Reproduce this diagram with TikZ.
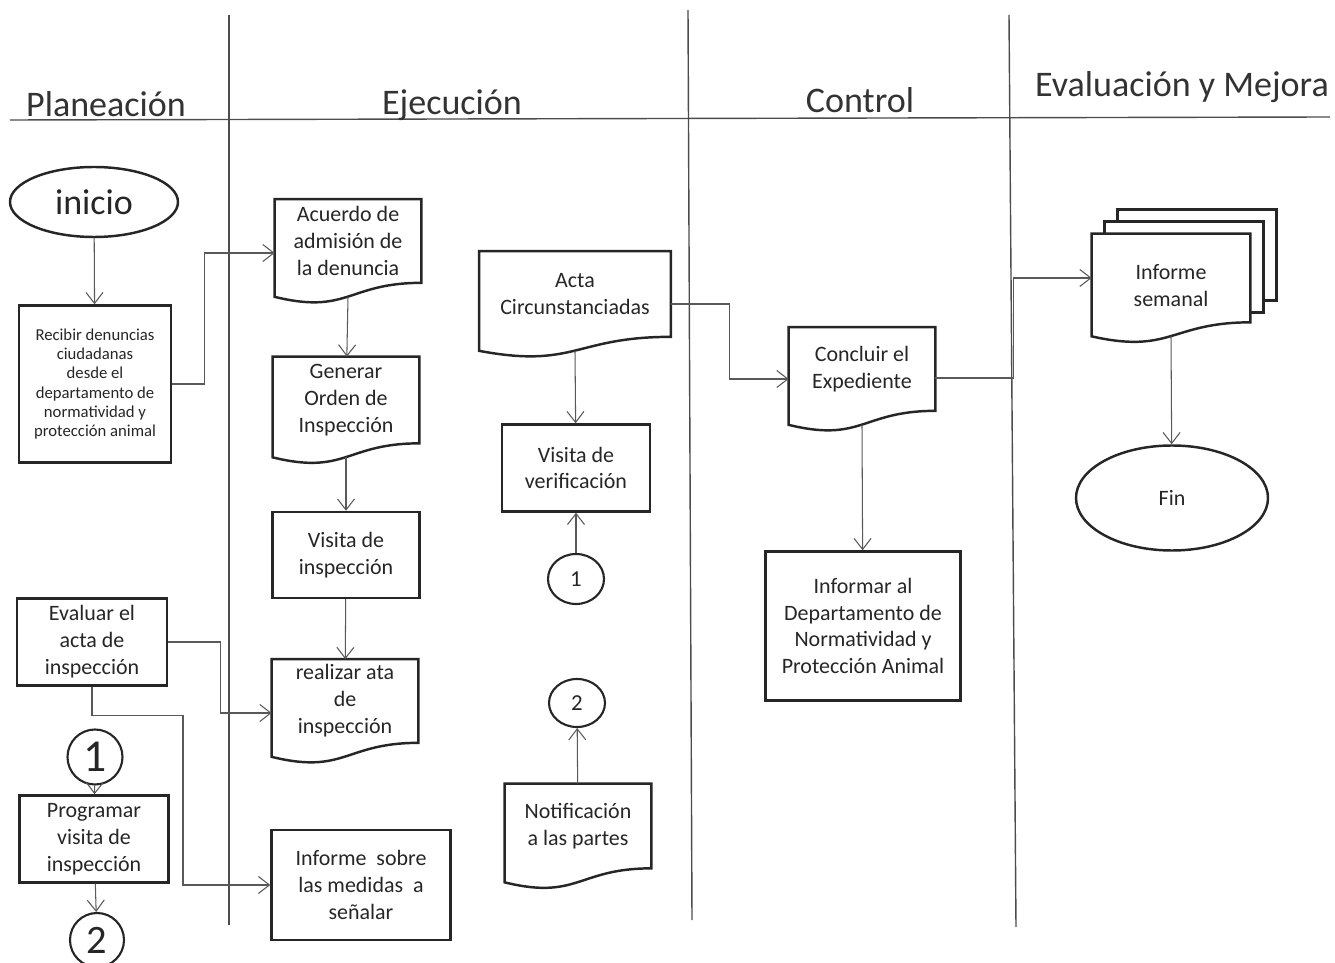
\documentclass[tikz,border=0pt]{standalone}
\usepackage{fontspec}
\setmainfont{Carlito}
\usepackage{tikz}
\usetikzlibrary{positioning}
\usetikzlibrary{arrows.meta,shapes}
\usetikzlibrary{calc}
\newlength{\px}
\setlength{\px}{0.2mm}
\begin{document}
\begin{tikzpicture}
  [x=0.2mm,y=-0.2mm,
  font=\fontsize{12.5}{15.3}\selectfont,
  boxline/.style={draw=black!85,line width=1.4pt},
  box/.style={rectangle,boxline,align=center,inner sep=2pt,text=black!85},
  doc/.style={rectangle,align=center,inner sep=2pt,text=black!85},
  term/.style={ellipse,boxline,text=black!85},
  conn/.style={ellipse,draw=black!85,line width=1.2pt,inner sep=0pt,text=black!85},
  flow/.style={->,black!65,line width=0.6pt},
  lane/.style={black!70,line width=0.8pt},
  head/.style={anchor=base,font=\fontsize{20.5}{24}\selectfont,text=black!80},
  >={Straight Barb[length=2.2mm,width=3.4mm]}]
  \useasboundingbox (0,0) rectangle (1335,963);

  \draw[lane] (10,120) -- (1330,117);
  \draw[lane] (229,15) -- (229,925);
  \draw[lane] (688,10) -- (692,920);
  \draw[lane] (1009,15) -- (1016,927);

  \node[head] (h1) at (106,117) {Planeación};
  \node[head] (h2) at (452,115) {Ejecución};
  \node[head] (h3) at (860,113) {Control};
  \node[head] (h4) at (1182,97) {Evaluación y Mejora};

  \node[term,minimum width=168*\px,minimum height=70*\px,font=\fontsize{20.5}{24}\selectfont] (inicio) at (94,202) {inicio};
  \node[box,minimum width=152*\px,minimum height=157*\px,font=\fontsize{9.5}{11}\selectfont] (recibir) at (95,384)
    {Recibir denuncias\\ciudadanas\\desde el\\departamento de\\normatividad y\\protección animal};
  \node[box,minimum width=150*\px,minimum height=87*\px] (evaluar) at (92,642) {Evaluar el\\acta de\\inspección};
  \node[conn,minimum width=55*\px,minimum height=55*\px,font=\fontsize{26}{28}\selectfont] (uno) at (95,757) {1};
  \node[box,minimum width=149*\px,minimum height=87*\px] (programar) at (94,839) {Programar\\visita de\\inspección};
  \node[conn,minimum width=54*\px,minimum height=54*\px,font=\fontsize{23}{25}\selectfont] (dos) at (97,940) {2};

  \node[doc,minimum width=146*\px,minimum height=83*\px] (acuerdo) at (348,241) {Acuerdo de\\admisión de\\la denuncia};
  \node[doc,minimum width=146*\px,minimum height=86*\px] (generar) at (346,400) {Generar\\Orden de\\Inspección};
  \node[box,minimum width=147*\px,minimum height=86*\px] (visitai) at (346,555) {Visita de\\inspección};
  \node[doc,minimum width=146*\px,minimum height=83*\px] (realizar) at (345,701) {realizar ata\\de\\inspección};
  \node[box,minimum width=179*\px,minimum height=110*\px] (medidas) at (361,885) {Informe\ \ sobre\\las medidas\ \ a\\señalar};

  \node[doc,minimum width=191*\px,minimum height=85*\px] (acta) at (575,294) {Acta\\Circunstanciadas};
  \node[box,minimum width=148*\px,minimum height=87*\px] (visitav) at (576,468) {Visita de\\verificación};
  \node[conn,minimum width=56*\px,minimum height=50*\px,font=\fontsize{13}{15}\selectfont] (unob) at (576,579) {1};
  \node[conn,minimum width=56*\px,minimum height=48*\px,font=\fontsize{13}{15}\selectfont] (dosb) at (577,703) {2};
  \node[doc,minimum width=146*\px,minimum height=84*\px] (notif) at (578,826) {Notificación\\a las partes};

  \node[doc,minimum width=146*\px,minimum height=83*\px] (concluir) at (862,369) {Concluir el\\Expediente};
  \node[box,minimum width=195*\px,minimum height=149*\px] (informar) at (863,626)
    {Informar al\\Departamento de\\Normatividad y\\Protección Animal};

  \node[doc,minimum width=158*\px,minimum height=88*\px] (informe) at (1171,278) {\rule{0pt}{6.2mm}Informe\\semanal};
  \node[term,minimum width=192*\px,minimum height=105*\px] (fin) at (1172,498) {Fin};

  \foreach \d in {acuerdo,generar,realizar,acta,notif,concluir,informe}
    \draw[boxline] (\d.north west) -- (\d.north east) -- (\d.south east)
      .. controls (\d.south) and ($(\d.south)+(0,32)$) .. ($(\d.south west)+(0,14)$) -- cycle;

  \draw[boxline] ($(informe.north west)+(13,0)$) -- ++(0,-12) -- ($(informe.north east)+(13,-12)$)
    -- ($(informe.south east)+(13,-10)$) -- ++(-13,0);
  \draw[boxline] ($(informe.north west)+(26,-12)$) -- ++(0,-12) -- ($(informe.north east)+(26,-24)$)
    -- ($(informe.south east)+(26,-22)$) -- ++(-13,0);

  \draw[flow] (inicio) -- (recibir);
  \draw[flow] (recibir.east) -- ++(32,0) |- ($(acuerdo.west)+(0,12)$);
  \draw[flow] ($(acuerdo.south)+(0,14)$) -- (generar);
  \draw[flow] ($(generar.south)+(0,14)$) -- (visitai);
  \draw[flow] (visitai) -- (realizar);
  \draw[flow] (evaluar.east) -- ++(52,0) |- ($(realizar.west)+(0,12)$);
  \draw[flow] (evaluar.south) -- ++(0,29) -- ++(91,0) |- (medidas.west);
  \draw[flow] (uno) -- (programar);
  \draw[flow] (programar) -- (dos);
  \draw[flow] ($(acta.south)+(0,14)$) -- (visitav);
  \draw[flow] (unob) -- (visitav);
  \draw[flow] (notif) -- (dosb);
  \draw[flow] ($(acta.east)+(0,10)$) -- ++(59,0) |- ($(concluir.west)+(0,10)$);
  \draw[flow] ($(concluir.south)+(0,14)$) -- (informar);
  \draw[flow] ($(concluir.east)+(0,9)$) -- ++(78,0) |- (informe.west);
  \draw[flow] ($(informe.south)+(0,14)$) -- (fin);
\end{tikzpicture}
\end{document}
